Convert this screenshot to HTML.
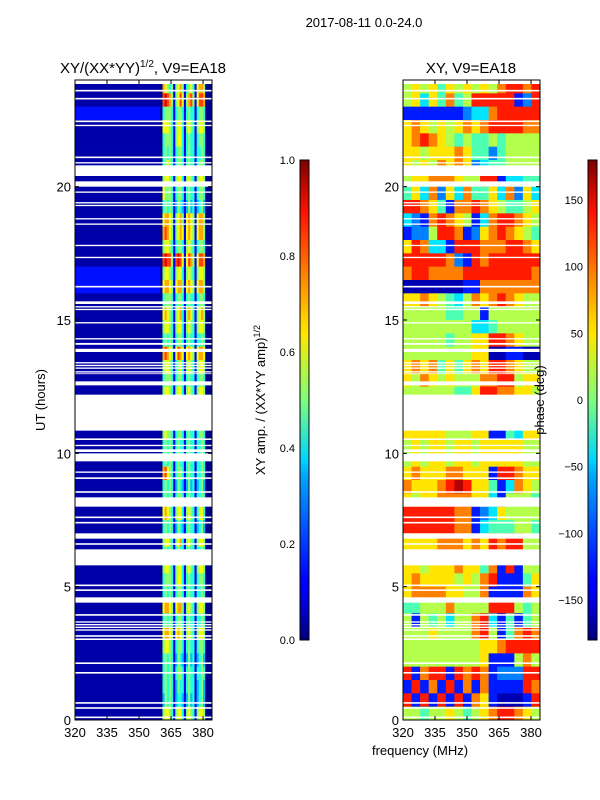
<!DOCTYPE html>
<html><head><meta charset="utf-8"><style>
body{margin:0;background:#fff;}
svg{display:block;font-family:"Liberation Sans",sans-serif;}
</style></head><body>
<svg id="fig" width="600" height="800" xmlns="http://www.w3.org/2000/svg">
<defs>
<linearGradient id="jet" x1="0" y1="1" x2="0" y2="0">
<stop offset="0" stop-color="#00007f"/><stop offset="0.11" stop-color="#0000ff"/><stop offset="0.125" stop-color="#0000ff"/>
<stop offset="0.34" stop-color="#00a4ff"/><stop offset="0.375" stop-color="#00d4ff"/><stop offset="0.5" stop-color="#7dff7a"/>
<stop offset="0.64" stop-color="#ffe600"/><stop offset="0.75" stop-color="#ff8c00"/><stop offset="0.89" stop-color="#ff1300"/><stop offset="1" stop-color="#7f0000"/>
</linearGradient>
</defs>
<text x="364" y="27" font-size="13" text-anchor="middle">2017-08-11 0.0-24.0</text>
<text x="143" y="73" font-size="15" text-anchor="middle">XY/(XX*YY)<tspan font-size="10" dy="-6">1/2</tspan><tspan dy="6">, V9=EA18</tspan></text>
<text x="471" y="73" font-size="15" text-anchor="middle">XY, V9=EA18</text>
<g id="left"></g>
<g id="right"></g>
<g id="axes"></g>
<text x="0" y="0" font-size="13" text-anchor="middle" transform="translate(45,400) rotate(-90)">UT (hours)</text>
<text x="420" y="755" font-size="13" text-anchor="middle">frequency (MHz)</text>
<rect x="300" y="160" width="9" height="480" fill="url(#jet)" stroke="#000" stroke-width="1"/>
<rect x="588" y="160" width="9" height="480" fill="url(#jet)" stroke="#000" stroke-width="1"/>
<text x="0" y="0" font-size="13" text-anchor="middle" transform="translate(265,400) rotate(-90)">XY amp. / (XX*YY amp)<tspan font-size="9" dy="-5">1/2</tspan></text>
<text x="0" y="0" font-size="13" text-anchor="middle" transform="translate(544,400) rotate(-90)">phase (deg)</text>
</svg>
<script>
const hourTicks=[0,5,10,15,20];
const freqTicks=[320,335,350,365,380];
const ampTicks=[0.0,0.2,0.4,0.6,0.8,1.0];
const phaseTicks=[-150,-100,-50,0,50,100,150];
// amplitude background (320-360 MHz) per row, top (23.5-24h) to bottom (0-0.5h)
const ampBg=[0,0,1,0,0,0,0,0,0,0,0,0,0,0,1,1,0,0,0,0,0,0,0,0,0,0,0,0,0,0,0,0,0,0,0,0,0,0,0,0,0,0,0,0,0,0,0,0];
// amplitude 360..383 MHz (1 MHz bins), digits 0-9
const ampStrip=[
"076545156751456416775000","089875156861578516887000","045554145541454414554000","066654156641565415665000",
"045554156641454414554000","045454145541454414454000","045654145541454414554000","056654156641565415665000",
"065554145541454414554000","045454135431353413453000","067765156751676516775000","078765156761676516775000",
"056654145541565414554000","089885189861687516887000","056654156641565415665000","067765167751676516775000",
"045554145541454414554000","067654156741576415675000","056654156641565415665000","045454145541454414454000",
"078765168761676516776000","056654145641565415665000","045554145541454414554000","056654156641565415665000",
"045454145541454414454000","045454145541454414454000","056554145541454414554000","045454145441454414454000",
"045454145441454414454000","078654145541454414454000","045454135431353413453000","045454145541454414454000",
"067654156641565414664000","045454135431454413453000","056654156741565415665000","045454145441454414454000",
"056654156641565415665000","045554156641454414554000","045454145541454414454000","067765167751565415665000",
"045454145541454414454000","067765167651565415665000","056654145541454414554000","045454135431353413453000",
"045454145541454414454000","045454135441454413453000","035454134431353413453000","056654156641565415665000"];
// phase, 4 MHz bins 320..384, digits 0-9 over -180..180
const phaseGrid=[
"5656465656578878","5636474588888128","1111111233788888","6765656767888877",
"6787654544545555","6656667644245555","6565767623445555","5667776558813344",
"4637263744637263","8876417787654456","3217876513788765","1225887126787654",
"6873318887778876","8888872187888888","7887777888888887","0000000117777777",
"6676543576787655","5555544551555555","5555555533455555","5555545566887655",
"5555555566001100","6767464676887655","6576565557788566","5555554468877665",
"5555555555555555","5555555555555555","6666655566114366","5656656656666655",
"5656656656666655","6766677666188766","7666789866413765","6566777766315554",
"8888887712365555","8888887713444554","6666777676878855","6666777676878855",
"6656667664718155","6766665657811146","6777766557111176","4455575555888545",
"5154535578314145","5556555578514787","5555555556678888","5555555556111575",
"8178818787122288","1817181717111187","8181818176100018","5545565456788765"];
// flagged (white) time ranges in hours
const gaps=[[23.85,24],[23.57,23.63],[23.27,23.33],[22.42,22.48],[22.27,22.32],[21.07,21.13],[20.87,20.92],[20.4,20.8],[20.0,20.2],[19.77,19.82],[19.37,19.42],[19.27,19.32],[18.77,18.82],[18.57,18.62],[17.77,17.82],[17.32,17.37],[16.22,16.28],[15.6,15.7],[15.47,15.52],[15.37,15.42],[14.87,14.92],[14.27,14.32],[14.07,14.14],[13.8,13.92],[13.37,13.42],[13.27,13.32],[13.17,13.22],[13.03,13.08],[12.97,13.0],[12.55,12.7],[10.85,12.2],[10.5,10.56],[10.27,10.32],[10.05,10.15],[9.7,10.0],[9.27,9.32],[9.04,9.1],[8.52,8.58],[8.0,8.35],[7.57,7.63],[7.37,7.43],[6.8,7.0],[6.57,6.63],[5.8,6.4],[5.02,5.08],[4.84,4.9],[4.4,4.6],[3.91,3.97],[3.65,3.7],[3.55,3.6],[3.45,3.5],[3.35,3.4],[3.12,3.18],[3.0,3.06],[2.1,2.16],[1.74,1.8],[0.61,0.67],[0.42,0.48],[0.07,0.13]];

const NS="http://www.w3.org/2000/svg";
const Y0=720,YPX=640/24, FPX=137/(384.2-320);
function yS(h){return Y0-h*YPX;}
function xS(f,off){return off+(f-320)*FPX;}
function clip(v){return Math.max(0,Math.min(1,v));}
function jet(x){const r=clip(1.5-Math.abs(4*x-3)),g=clip(1.5-Math.abs(4*x-2)),b=clip(1.5-Math.abs(4*x-1));
return `rgb(${Math.round(r*255)},${Math.round(g*255)},${Math.round(b*255)})`;}
function R(parent,x,y,w,h,fill){const e=document.createElementNS(NS,'rect');
e.setAttribute('x',x);e.setAttribute('y',y);e.setAttribute('width',w);e.setAttribute('height',h);e.setAttribute('fill',fill);
parent.appendChild(e);return e;}
function L(parent,x1,y1,x2,y2){const e=document.createElementNS(NS,'line');
e.setAttribute('x1',x1);e.setAttribute('y1',y1);e.setAttribute('x2',x2);e.setAttribute('y2',y2);e.setAttribute('stroke','#000');
parent.appendChild(e);return e;}
function T(parent,x,y,s,anchor){const e=document.createElementNS(NS,'text');
e.setAttribute('x',x);e.setAttribute('y',y);e.setAttribute('font-size','13');e.setAttribute('text-anchor',anchor);e.textContent=s;
parent.appendChild(e);return e;}

const left=document.getElementById('left'), right=document.getElementById('right'), axes=document.getElementById('axes');
const nR=ampStrip.length, rowH=24/nR;
for(let r=0;r<nR;r++){
  const hTop=24-r*rowH, y=yS(hTop);
  let c=R(left,xS(320,75),y,xS(360,75)-xS(320,75)+0.3,rowH*YPX+0.3,jet((ampBg[r]+0.4)/10));
  
  
  const s=ampStrip[r];
  for(let i=0;i<s.length;i++){
    const f=360+i;
    const e=R(left,xS(f,75),y,FPX+0.3,rowH*YPX+0.3,jet((+s[i]+0.1)/10));
    
    
  }
  R(left,xS(384,75),y,xS(384.2,75)-xS(384,75),rowH*YPX+0.3,jet(0.04));
  const p=phaseGrid[r], bw=(384.2-320)/p.length;
  for(let i=0;i<p.length;i++){
    const f=320+i*bw;
    const e=R(right,xS(f,403),y,bw*FPX+0.3,rowH*YPX+0.3,jet((+p[i]+0.5)/10));
    
    
  }
}
for(const g of gaps){
  for(const off of [75,403]){
    const e=R(off===75?left:right,off,yS(g[1]),137,(g[1]-g[0])*YPX,'#fff');
    
    
  }
}
for(const off of [75,403]){
  const fr=R(axes,off,80,137,640,'none');fr.setAttribute('stroke','#000');
  
  
  for(const h of hourTicks){
    const y=yS(h);
    L(axes,off,y,off+4,y);L(axes,off+137,y,off+133,y);
    const t=T(axes,off-4,y+5,String(h),'end');
    
    
  }
  for(const f of freqTicks){
    const x=xS(f,off);
    L(axes,x,720,x,716);L(axes,x,80,x,84);
    const t=T(axes,x,737,String(f),'middle');
    
    
  }
}
for(const a of ampTicks){
  const y=640-a*480;
  L(axes,300,y,303,y);L(axes,309,y,306,y);
  const t=T(axes,295,y+4,a.toFixed(1),'end');t.setAttribute('font-size','11');
  
  
}
for(const ph of phaseTicks){
  const y=400-ph*480/360;
  L(axes,588,y,591,y);L(axes,597,y,594,y);
  const t=T(axes,583,y+4,ph<0?'\u2212'+(-ph):String(ph),'end');t.setAttribute('font-size','11');
  
  
}
</script>
</body></html>
